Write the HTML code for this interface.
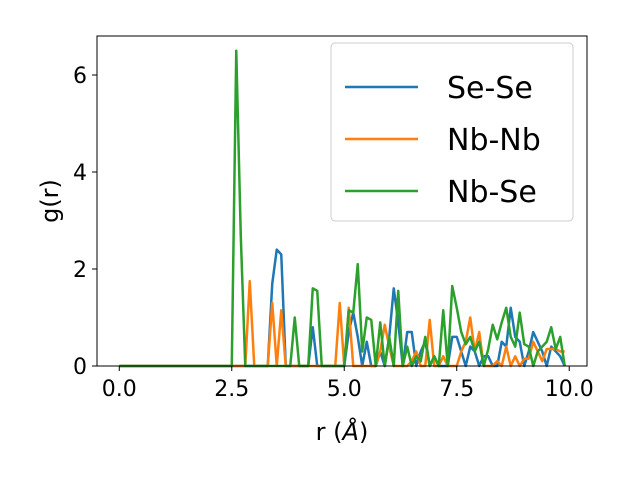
<!DOCTYPE html>
<html><head><meta charset="utf-8"><style>body{margin:0;background:#fff}svg{font-family:"DejaVu Sans","Liberation Sans",sans-serif}</style></head>
<body>
<svg id="c" width="640" height="480"></svg>
<script>
const categoriesR=[];for(let i=0;i<100;i++)categoriesR.push(+(i*0.1).toFixed(1));
const seSe=[0,0,0,0,0,0,0,0,0,0,0,0,0,0,0,0,0,0,0,0,0,0,0,0,0,0,0,0,0,0,0,0,0,0,1.7,2.4,2.3,0,0,0,0,0,0,0.8,0,0,0,0,0,0,0,0.7,1.1,0.6,0,0.5,0,0,0.3,0,0.6,1.6,0.9,0,0.7,0.7,0,0.3,0.5,0,0.2,0,0,0,0.6,0.6,0.3,0,0.4,0.3,0,0.2,0.2,0,0,0.5,0.4,1.2,0.6,0.5,0,0.3,0.7,0.5,0.3,0,0.4,0.3,0.2,0];
const nbNb=[0,0,0,0,0,0,0,0,0,0,0,0,0,0,0,0,0,0,0,0,0,0,0,0,0,0,0,0,0,1.75,0,0,0,0,1.3,0,1.15,0,0,0,0,0,0,0,0,0,0,0,0,1.3,0,1.2,0,0,0,0,0,0,0.3,0.85,0.4,0,0,0,0,0.1,0.3,0,0,0.95,0,0,0.2,0,0,0,0.3,0.5,1.0,0.3,0.7,0,0,0,0.1,0,0.4,0,0.2,0,0.15,0.15,0.5,0.3,0.1,0.35,0.35,0.35,0.3,0.3];
const nbSe=[0,0,0,0,0,0,0,0,0,0,0,0,0,0,0,0,0,0,0,0,0,0,0,0,0,0,6.5,2.7,0,0,0,0,0,0,0,0,0,0,0,1.0,0,0,0,1.6,1.55,0,0,0,0,0,0,1.15,1.1,2.1,0.3,1.0,0.95,0,0.9,0,0.6,0,1.55,0,0.4,0,0.2,0.1,0.6,0,0.2,0,1.15,0,1.65,1.2,0.7,0.45,0.6,0.3,0.5,0,0.35,0.85,0.55,0.9,1.2,0.6,0.4,1.1,0.45,0.4,0,0.3,0.4,0.5,0.8,0.35,0.6,0];
const xTicks=[0,2.5,5,7.5,10];const xTickLabels=["0.0","2.5","5.0","7.5","10.0"];
const yTicks=[0,2,4,6];const yTickLabels=["0","2","4","6"];
const seriesNames=["Se-Se","Nb-Nb","Nb-Se"];const colors=["#1f77b4","#ff7f0e","#2ca02c"];
const L=97,R=587,T=36,B=366,xmin=-0.495,xmax=10.395,ymin=0,ymax=6.804;
const X=v=>L+(v-xmin)/(xmax-xmin)*(R-L);const Y=v=>B-(v-ymin)/(ymax-ymin)*(B-T);
const s=document.getElementById('c');const NS="http://www.w3.org/2000/svg";
function mk(t,a,p){const e=document.createElementNS(NS,t);for(const k in a)e.setAttribute(k,a[k]);(p||s).appendChild(e);return e;}
[seSe,nbNb,nbSe].forEach((d,j)=>{const el=mk('polyline',{points:d.map((v,i)=>X(categoriesR[i])+','+Y(v)).join(' '),fill:'none',stroke:colors[j],'stroke-width':2.5,'stroke-linejoin':'round'});

});
const fr=mk('rect',{x:L,y:T,width:R-L,height:B-T,fill:'none',stroke:'#000','stroke-width':1});

xTicks.forEach((v,i)=>{mk('line',{x1:X(v),x2:X(v),y1:B,y2:B+5,stroke:'#000'});const t=mk('text',{x:X(v),y:B+30,'font-size':22,'text-anchor':'middle'});t.textContent=xTickLabels[i];
});
yTicks.forEach((v,i)=>{mk('line',{x1:L-5,x2:L,y1:Y(v),y2:Y(v),stroke:'#000'});const t=mk('text',{x:L-10,y:Y(v)+8,'font-size':22,'text-anchor':'end'});t.textContent=yTickLabels[i];
});
const xl=mk('text',{x:342,y:440,'font-size':24,'text-anchor':'middle'});xl.innerHTML='r (<tspan font-style="italic">Å</tspan>)';

const yl=mk('text',{x:58,y:201,'font-size':24,'text-anchor':'middle',transform:'rotate(-90 58 201)'});yl.textContent='g(r)';

const lg=mk('g',{});
mk('rect',{x:331,y:43,width:242,height:178,rx:4,fill:'#fff','fill-opacity':0.8,stroke:'#ccc'},lg);
seriesNames.forEach((n,j)=>{const y=87+j*52;const g=mk('g',{},lg);
mk('line',{x1:345,x2:418,y1:y,y2:y,stroke:colors[j],'stroke-width':2.5},g);const t=mk('text',{x:447,y:y+11,'font-size':30},g);t.textContent=n;});
</script>
</body></html>
